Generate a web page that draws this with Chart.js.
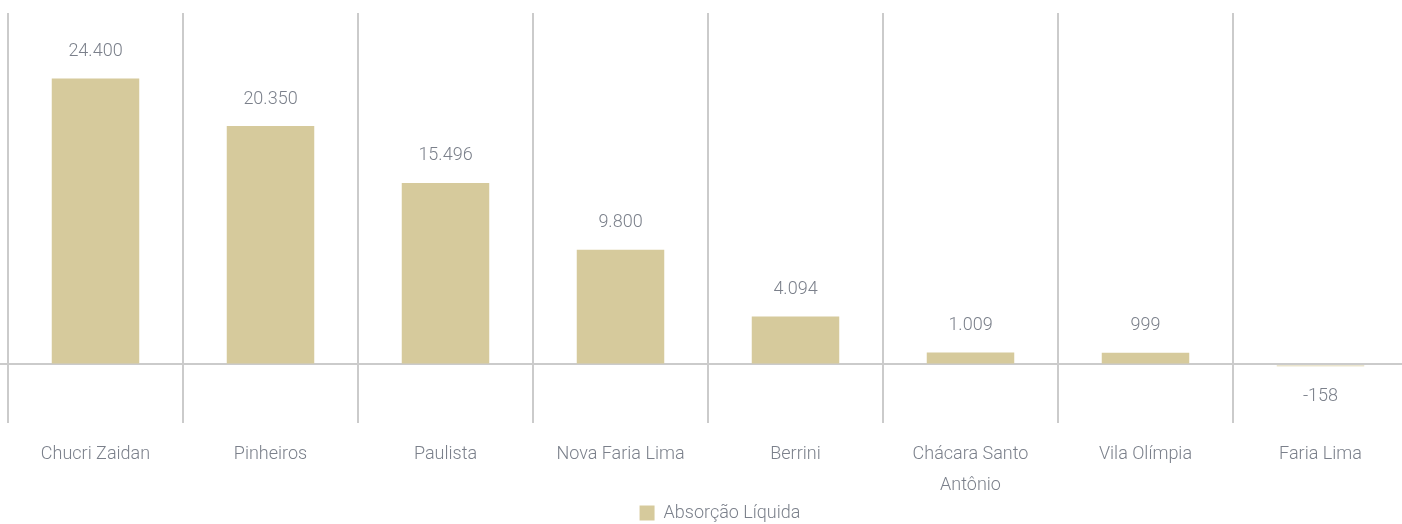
<!DOCTYPE html>
<html>
<head>
<meta charset="utf-8">
<script src="https://cdn.jsdelivr.net/npm/chart.js@4"></script>
<style>
  html, body { margin: 0; padding: 0; overflow: hidden; background: #fff; }
  #wrap { width: 1440px; height: 524px; }
</style>
</head>
<body>
<div id="wrap"><canvas id="absChart"></canvas></div>
<script>
// regiões
const categories = ['Chucri Zaidan', 'Pinheiros', 'Paulista', 'Nova Faria Lima', 'Berrini',
  ['Chácara Santo', 'Antônio'], 'Vila Olímpia', 'Faria Lima'];
// absorção líquida (m²)
const absorcao = [24400, 20350, 15496, 9800, 4094, 1009, 999, -158];
const seriesLabel = 'Absorção Líquida';

const BAR_COLOR = '#d6ca9c';
const GRID_COLOR = '#cbcbcb';
const TEXT_COLOR = '#7b808b';
const FONT = { family: 'Roboto', size: 18, weight: '300' };

// rótulos de valor acima/abaixo das barras
const valueLabels = {
  id: 'valueLabels',
  afterDatasetsDraw(chart) {
    const ctx = chart.ctx;
    const meta = chart.getDatasetMeta(0);
    ctx.save();
    ctx.font = `${FONT.weight} ${FONT.size}px ${FONT.family}`;
    ctx.fillStyle = TEXT_COLOR;
    ctx.textAlign = 'center';
    ctx.textBaseline = 'middle';
    meta.data.forEach((bar, i) => {
      const v = absorcao[i];
      const y = v >= 0 ? bar.y - 27 : bar.y + 30;
      ctx.fillText(v.toLocaleString('pt-BR'), bar.x, y);
    });
    ctx.restore();
  }
};

new Chart(document.getElementById('absChart'), {
  type: 'bar',
  data: {
    labels: categories,
    datasets: [{
      label: seriesLabel,
      data: absorcao,
      backgroundColor: BAR_COLOR,
      borderWidth: 0,
      categoryPercentage: 1,
      barPercentage: 0.5
    }]
  },
  options: {
    responsive: true,
    maintainAspectRatio: false,
    animation: false,
    layout: { padding: { top: 13, left: 0, right: 0, bottom: -8 } },
    plugins: {
      legend: {
        position: 'bottom',
        labels: {
          color: TEXT_COLOR,
          font: { ...FONT, lineHeight: 1 },
          boxWidth: 15,
          boxHeight: 15,
          padding: 0
        }
      },
      tooltip: { enabled: false }
    },
    scales: {
      x: {
        afterFit: s => { s.height = 81; },
        grid: { offset: true, color: GRID_COLOR, lineWidth: 2, drawTicks: false },
        border: { display: false },
        ticks: { color: TEXT_COLOR, font: { ...FONT, lineHeight: 1.72 }, padding: 16, maxRotation: 0 }
      },
      y: {
        min: -5000,
        max: 30000,
        afterFit: s => { s.width = 8; },
        grid: {
          color: c => c.tick && c.tick.value === 0 ? GRID_COLOR : 'transparent',
          lineWidth: 2,
          drawTicks: true,
          tickLength: 8
        },
        border: { display: false },
        ticks: { display: false, stepSize: 5000 }
      },
      y2: {
        position: 'right',
        afterFit: s => { s.width = 32; },
        grid: { display: false },
        border: { display: false },
        ticks: { display: false }
      }
    }
  },
  plugins: [valueLabels]
});
</script>
</body>
</html>
